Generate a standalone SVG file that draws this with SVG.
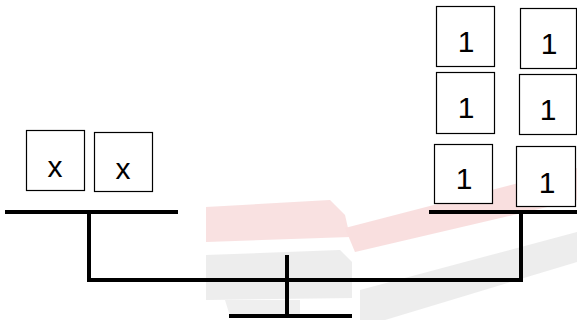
<svg xmlns="http://www.w3.org/2000/svg" width="577" height="320" viewBox="0 0 577 320">
<style>
.box{fill:#fff;stroke:#000;stroke-width:1.2}
.t{font-family:"Liberation Sans","Open Sans",sans-serif;font-size:30px;fill:#000;text-anchor:middle}
.beam{stroke:#000;stroke-width:4;fill:none;stroke-linecap:butt}
</style>
<rect width="577" height="320" fill="#fff"/>
<g id="watermark" opacity="0.5">
<polygon points="206,207 330,200 345,215 350,237 206,242" fill="#f4c4c4"/>
<polygon points="345,228 577,168 577,200 355,252" fill="#f4c0c0"/>
<polygon points="206,255 340,250 352,262 352,298 206,300" fill="#dcdcdc"/>
<polygon points="225,300 300,300 300,316 230,316" fill="#e0e0e0"/>
<polygon points="360,290 577,232 577,262 385,320 360,320" fill="#dcdcdc"/>
</g>
<g id="connectors">
<line class="beam" x1="5" y1="212" x2="178" y2="212"/>
<line class="beam" x1="429" y1="212" x2="577" y2="212"/>
<polyline class="beam" points="89,212 89,280 521,280 521,212"/>
<line class="beam" x1="287" y1="255" x2="287" y2="316"/>
<line class="beam" x1="229" y1="316" x2="352" y2="316"/>
</g>
<g id="x1"><rect class="box" x="26.5" y="130.5" width="58" height="60"/><text class="t" x="55" y="177">x</text></g>
<g id="x2"><rect class="box" x="94.5" y="132.5" width="58" height="59"/><text class="t" x="123" y="179">x</text></g>
<g id="one1"><rect class="box" x="436.5" y="6.5" width="58" height="60"/><text class="t" x="466" y="52">1</text></g>
<g id="one2"><rect class="box" x="520.5" y="8.5" width="56" height="60"/><text class="t" x="549" y="54">1</text></g>
<g id="one3"><rect class="box" x="436.5" y="72.5" width="58" height="61"/><text class="t" x="466" y="118">1</text></g>
<g id="one4"><rect class="box" x="519.5" y="74.5" width="57" height="60"/><text class="t" x="548" y="120">1</text></g>
<g id="one5"><rect class="box" x="434.5" y="144.5" width="58" height="59"/><text class="t" x="464" y="189">1</text></g>
<g id="one6"><rect class="box" x="516.5" y="146.5" width="59" height="60"/><text class="t" x="547" y="193">1</text></g>
</svg>
